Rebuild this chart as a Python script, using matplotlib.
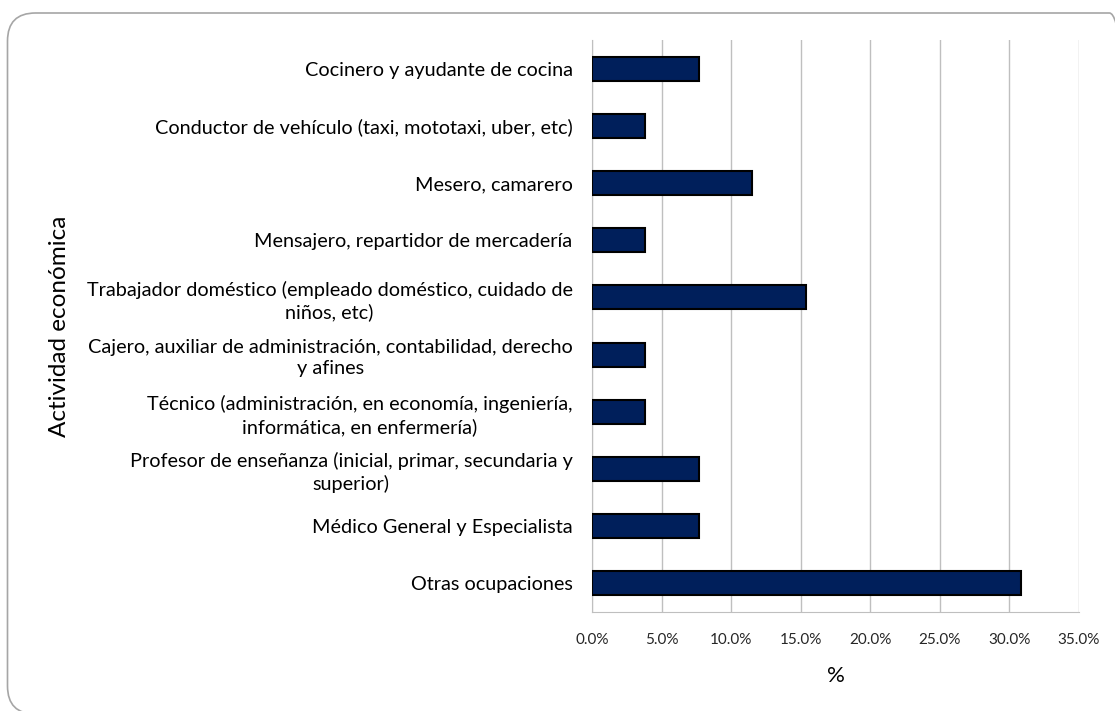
import numpy as np
import matplotlib.pyplot as plt
from matplotlib.patches import FancyBboxPatch
from matplotlib.ticker import PercentFormatter

plt.rcParams['font.family'] = ['Lato', 'DejaVu Sans']

# categories from top to bottom as shown
categorias = [
    "Cocinero y ayudante de cocina",
    "Conductor de vehículo (taxi, mototaxi, uber, etc)",
    "Mesero, camarero",
    "Mensajero, repartidor de mercadería",
    "Trabajador doméstico (empleado doméstico, cuidado de\nniños, etc)",
    "Cajero, auxiliar de administración, contabilidad, derecho\ny afines",
    "Técnico (administración, en economía, ingeniería,\ninformática, en enfermería)",
    "Profesor de enseñanza (inicial, primar, secundaria y\nsuperior)",
    "Médico General y Especialista",
    "Otras ocupaciones",
]
porcentajes = [7.7, 3.8, 11.5, 3.8, 15.4, 3.8, 3.8, 7.7, 7.7, 30.8]
xticks = [0, 5, 10, 15, 20, 25, 30, 35]

fig = plt.figure(figsize=(11.15, 7.11), dpi=100)

# rounded frame around the chart (in inches)
frame = FancyBboxPatch((0.075, -0.03), 11.3, 7.01,
                       boxstyle="round,pad=0,rounding_size=0.28",
                       transform=fig.dpi_scale_trans, facecolor='none',
                       edgecolor='#A6A6A6', linewidth=1.2, clip_on=False)
fig.patches.append(frame)

ax = fig.add_axes([592 / 1115, (711 - 612) / 711, 487 / 1115, 572 / 711])

y = np.arange(len(categorias))
ax.barh(y, porcentajes, height=0.42, color='#001F5B', edgecolor='black',
        linewidth=1.5, zorder=3)

ax.set_ylim(len(categorias) - 0.5, -0.5)
ax.set_xlim(0, 35)
ax.set_xticks(xticks)
ax.xaxis.set_major_formatter(PercentFormatter(decimals=1))
ax.set_yticks(y)
ax.set_yticklabels(categorias, fontsize=14.3, multialignment='center',
                   linespacing=1.3)

ax.grid(axis='x', color='#BFBFBF', linewidth=1, zorder=0)
for s in ['top', 'right']:
    ax.spines[s].set_visible(False)
ax.spines['left'].set_color('#BFBFBF')
ax.spines['bottom'].set_color('#BFBFBF')
ax.tick_params(axis='y', length=0, pad=14)
ax.tick_params(axis='x', length=0, pad=15, labelsize=11, labelcolor='#262626')

ax.set_xlabel('%', fontsize=16, labelpad=14)
fig.text(59 / 1115, 1 - 326 / 711, 'Actividad económica', rotation=90,
         fontsize=17.5, ha='center', va='center')

fig.savefig('out.png', dpi=100)
